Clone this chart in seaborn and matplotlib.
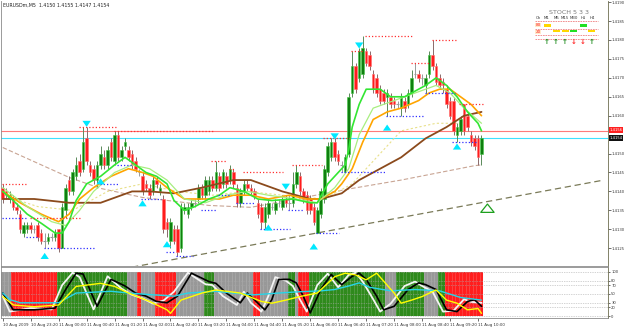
import numpy as np
import pandas as pd
import matplotlib
matplotlib.use("Agg")
import matplotlib.pyplot as plt
import seaborn as sns
from matplotlib.patches import Rectangle

sns.set_theme(style="white")
plt.rcParams['font.family'] = ['DejaVu Sans']

# ---------------- data ----------------
symbol_title = "EURUSDm,M5  1.4150 1.4155 1.4147 1.4154"

opens = [1.4141,1.4140,1.4138,1.4138,1.4136,1.4134,1.4129,1.4130,1.4131,1.4130,
         1.4131,1.4129,1.4127,1.4127,1.4128,1.4128,1.4130,1.4125,1.4135,1.4143,
         1.4140,1.4144,1.4148,1.4146,1.4154,1.4147,1.4146,1.4143,1.4147,1.4149,
         1.4147,1.4153,1.4148,1.4155,1.4149,1.4152,1.4151,1.4150,1.4148,1.4145,
         1.4144,1.4142,1.4141,1.4140,1.4143,1.4140,1.4138,1.4132,1.4127,1.4130,
         1.4130,1.4125,1.4135,1.4134,1.4136,1.4137,1.4138,1.4141,1.4139,1.4140,
         1.4143,1.4141,1.4144,1.4142,1.4144,1.4143,1.4145,1.4141,1.4137,1.4140,
         1.4142,1.4141,1.4140,1.4137,1.4136,1.4132,1.4134,1.4136,1.4135,1.4137,
         1.4136,1.4138,1.4137,1.4137,1.4142,1.4144,1.4140,1.4139,1.4138,1.4136,
         1.4129,1.4134,1.4138,1.4145,1.4149,1.4153,1.4150,1.4147,1.4145,1.4150,
         1.4166,1.4173,1.4170,1.4171,1.4177,1.4176,1.4171,1.4170,1.4167,1.4166,
         1.4165,1.4165,1.4164,1.4163,1.4162,1.4164,1.4163,1.4166,1.4171,1.4171,
         1.4170,1.4168,1.4171,1.4176,1.4173,1.4170,1.4169,1.4167,1.4164,1.4164,
         1.4155,1.4156,1.4163,1.4160,1.4155,1.4154,1.4154,1.4150]
highs = [1.4142,1.4141,1.4140,1.4139,1.4137,1.4135,1.4132,1.4132,1.4132,1.4131,
         1.4132,1.4130,1.4129,1.4129,1.4129,1.4130,1.4130,1.4137,1.4142,1.4144,
         1.4146,1.4149,1.4150,1.4157,1.4157,1.4148,1.4147,1.4148,1.4152,1.4151,
         1.4152,1.4154,1.4156,1.4156,1.4152,1.4154,1.4152,1.4151,1.4149,1.4146,
         1.4145,1.4143,1.4142,1.4144,1.4144,1.4142,1.4139,1.4133,1.4133,1.4131,
         1.4131,1.4137,1.4137,1.4137,1.4138,1.4138,1.4142,1.4142,1.4144,1.4144,
         1.4144,1.4148,1.4145,1.4146,1.4145,1.4147,1.4146,1.4142,1.4141,1.4143,
         1.4143,1.4142,1.4141,1.4138,1.4137,1.4137,1.4138,1.4137,1.4138,1.4138,
         1.4139,1.4139,1.4139,1.4145,1.4147,1.4145,1.4141,1.4140,1.4139,1.4137,
         1.4136,1.4141,1.4147,1.4153,1.4154,1.4154,1.4151,1.4148,1.4150,1.4166,
         1.4177,1.4174,1.4178,1.4181,1.4178,1.4177,1.4172,1.4171,1.4168,1.4167,
         1.4167,1.4166,1.4165,1.4164,1.4166,1.4165,1.4167,1.4172,1.4174,1.4172,
         1.4171,1.4171,1.4177,1.4180,1.4174,1.4171,1.4170,1.4168,1.4165,1.4165,
         1.4158,1.4160,1.4163,1.4161,1.4156,1.4155,1.4155,1.4155]
lows = [1.4137,1.4138,1.4137,1.4135,1.4134,1.4129,1.4128,1.4129,1.4129,1.4129,
        1.4127,1.4126,1.4125,1.4126,1.4127,1.4127,1.4124,1.4125,1.4133,1.4139,
        1.4139,1.4143,1.4144,1.4145,1.4147,1.4144,1.4142,1.4141,1.4146,1.4146,
        1.4146,1.4148,1.4147,1.4148,1.4148,1.4151,1.4148,1.4146,1.4145,1.4144,
        1.4139,1.4140,1.4138,1.4139,1.4141,1.4139,1.4129,1.4128,1.4125,1.4126,
        1.4123,1.4124,1.4134,1.4133,1.4135,1.4136,1.4137,1.4138,1.4138,1.4139,
        1.4140,1.4140,1.4140,1.4141,1.4141,1.4142,1.4141,1.4136,1.4136,1.4139,
        1.4140,1.4139,1.4138,1.4133,1.4130,1.4130,1.4133,1.4135,1.4134,1.4136,
        1.4135,1.4136,1.4135,1.4136,1.4141,1.4139,1.4137,1.4134,1.4134,1.4131,
        1.4129,1.4133,1.4137,1.4144,1.4148,1.4148,1.4147,1.4145,1.4145,1.4149,
        1.4165,1.4166,1.4169,1.4170,1.4173,1.4172,1.4166,1.4165,1.4163,1.4163,
        1.4160,1.4162,1.4162,1.4162,1.4160,1.4161,1.4162,1.4165,1.4170,1.4169,
        1.4168,1.4166,1.4170,1.4172,1.4168,1.4167,1.4166,1.4162,1.4159,1.4155,
        1.4153,1.4155,1.4155,1.4156,1.4152,1.4151,1.4147,1.4147]
closes = [1.4138,1.4139,1.4139,1.4136,1.4135,1.4130,1.4131,1.4131,1.4130,1.4130,
          1.4128,1.4127,1.4127,1.4128,1.4128,1.4129,1.4125,1.4136,1.4141,1.4140,
          1.4145,1.4147,1.4145,1.4153,1.4148,1.4145,1.4143,1.4147,1.4150,1.4147,
          1.4151,1.4149,1.4155,1.4149,1.4151,1.4153,1.4149,1.4147,1.4146,1.4145,
          1.4140,1.4141,1.4139,1.4143,1.4142,1.4141,1.4130,1.4130,1.4132,1.4127,
          1.4124,1.4136,1.4136,1.4136,1.4137,1.4137,1.4141,1.4139,1.4143,1.4143,
          1.4141,1.4145,1.4141,1.4145,1.4142,1.4146,1.4142,1.4137,1.4140,1.4142,
          1.4141,1.4140,1.4139,1.4134,1.4132,1.4136,1.4137,1.4136,1.4137,1.4137,
          1.4138,1.4137,1.4137,1.4142,1.4145,1.4140,1.4138,1.4135,1.4135,1.4132,
          1.4135,1.4140,1.4146,1.4152,1.4153,1.4149,1.4148,1.4147,1.4149,1.4165,
          1.4173,1.4167,1.4177,1.4178,1.4174,1.4173,1.4167,1.4166,1.4164,1.4164,
          1.4166,1.4163,1.4163,1.4163,1.4165,1.4162,1.4166,1.4170,1.4171,1.4170,
          1.4170,1.4170,1.4176,1.4173,1.4169,1.4168,1.4168,1.4163,1.4160,1.4156,
          1.4157,1.4159,1.4156,1.4157,1.4153,1.4152,1.4149,1.4154]

# moving averages (bar index, price)
lime_i = [0,3,7,11,15,17,19,21,24,28,32,35,38,41,44,47,49,52,55,59,62,65,69,73,77,83,88,90,93,96,98,99,100,102,104,108,111,115,117,121,124,127,130,133,136,137]
lime_p = [1.4140,1.41376,1.4134,1.41316,1.4129,1.4129,1.4132,1.41376,1.4142,1.4144,1.4147,1.4149,1.4147,1.4145,1.4144,1.4142,1.41376,1.4135,1.4136,1.4138,1.4139,1.4141,1.4140,1.4138,1.41376,1.4138,1.4137,1.4137,1.4142,1.4145,1.4147,1.4151,1.4157,1.4163,1.4167,1.4167,1.4165,1.4165,1.4166,1.4168,1.4170,1.4168,1.4165,1.4161,1.4158,1.4156]
lgreen_i = [0,7,14,18,22,26,32,37,42,47,52,58,64,70,76,84,90,95,99,102,106,112,118,124,128,132,137]
lgreen_p = [1.4141,1.4136,1.4132,1.4131,1.4135,1.4140,1.4145,1.4147,1.4146,1.4143,1.4138,1.4137,1.4139,1.4140,1.4139,1.4138,1.4137,1.4141,1.4146,1.4155,1.4162,1.4164,1.4166,1.4168,1.4166,1.4162,1.4158]
orange_i = [0,5,11,16,19,22,26,31,36,40,43,47,52,57,62,66,71,76,82,87,91,95,97,100,103,106,110,114,119,122,125,128,131,134,137]
orange_p = [1.4140,1.4137,1.4134,1.4132,1.4134,1.4138,1.4141,1.4144,1.4146,1.4145,1.4144,1.4141,1.4138,1.4138,1.4138,1.4139,1.4139,1.4138,1.4139,1.4138,1.4138,1.4140,1.4142,1.4146,1.4153,1.4159,1.4161,1.4162,1.4164,1.4166,1.4167,1.4167,1.4165,1.4163,1.4160]
brown_i = [0,9,19,28,37,42,49,57,66,71,80,88,91,97,102,108,114,121,127,132,137]
brown_p = [1.4138,1.4138,1.4137,1.4137,1.4140,1.4140,1.41395,1.4141,1.4143,1.4143,1.4140,1.4138,1.4138,1.41395,1.4143,1.4146,1.4149,1.4154,1.4157,1.4160,1.4161]
tan_i = [0,19,28,40,59,71,85,100,114,135,137]
tan_p = [1.41516,1.41437,1.41408,1.41384,1.41363,1.41358,1.41382,1.41408,1.4143,1.41468,1.4147]
khaki_i = [0,10,20,30,40,50,60,70,80,92,100,108,114,124,130,134]
khaki_p = [1.4139,1.4136,1.4135,1.4140,1.4142,1.4140,1.4139,1.4140,1.4139,1.4138,1.4142,1.4150,1.4156,1.4158,1.4158,1.4157]

# fractal levels
res_start = [0,8,22,32,60,65,69,83,92,100,104,117,123,131]
res_end   = [7,22,32,60,64,66,80,91,99,103,117,122,130,137]
res_price = [1.4142,1.4133,1.4157,1.4156,1.4148,1.4146,1.4145,1.4147,1.4154,1.4177,1.4181,1.4174,1.4180,1.4163]
sup_start = [0,7,12,28,33,40,47,50,57,62,67,74,82,90,97,110,121,129]
sup_end   = [7,10,26,33,37,45,49,54,61,65,72,82,86,96,109,120,129,135]
sup_price = [1.4133,1.4128,1.4125,1.4142,1.4147,1.4138,1.4124,1.4123,1.4135,1.4139,1.4137,1.4130,1.4135,1.4129,1.4145,1.4160,1.4166,1.4153]

# signal arrows
arrow_i = [12,24,28,40,47,76,81,89,95,102,110,130]
arrow_p = [1.41245,1.41563,1.41442,1.41384,1.41276,1.4132,1.41397,1.4127,1.4153,1.4177,1.41584,1.41534]
arrow_up = [True,False,True,True,True,True,False,True,False,False,True,True]
big_arrow_i = [138.7]
big_arrow_p = [1.41374]

trend_i = [37, 172]
trend_p = [1.4120, 1.4143]
ask_price = 1.4156
bid_price = 1.4154

yticks_main = [1.4125,1.4130,1.4135,1.4140,1.4145,1.4150,1.4160,1.4165,1.4170,1.4175,1.4180,1.4185,1.4190]

xtick_pos = list(range(0, 137, 8))
xtick_lab = ["10 Aug 2009","10 Aug 23:20","11 Aug 00:00","11 Aug 00:40","11 Aug 01:20",
             "11 Aug 02:00","11 Aug 02:40","11 Aug 03:20","11 Aug 04:00","11 Aug 04:40",
             "11 Aug 05:20","11 Aug 06:00","11 Aug 06:40","11 Aug 07:20","11 Aug 08:00",
             "11 Aug 08:40","11 Aug 09:20","11 Aug 10:00"]

# oscillator window
band_state = ["N","R","G","N","R","N","R","N","G","N","R","N","G","N","R","G","N","G","N","G","R"]
band_len   = [3,13,20,3,1,4,6,8,3,11,2,8,2,1,3,22,3,8,4,2,11]
black_i = [0,3,9,15,18,21,23,27,31,35,38,41,44,47,50,54,59,61,64,68,70,72,75,77,79,82,84,86,88,91,94,97,100,102,104,107,109,112,116,119,121,124,127,130,133,135,137]
black_v = [52,14,14,18,60,97,95,22,83,68,52,45,33,30,45,97,78,74,52,30,52,37,14,37,83,83,75,45,7,60,94,71,90,97,83,45,14,22,60,75,71,60,14,10,33,37,22]
white_i = [0,2,8,14,17,20,22,26,30,34,37,40,43,46,49,53,58,60,63,67,69,71,74,76,78,81,83,85,87,90,93,96,99,101,103,106,108,111,115,118,120,123,126,129,132,134,137]
white_v = [45,10,18,15,70,98,88,15,90,62,48,40,28,35,55,98,72,70,45,25,55,30,10,45,88,80,68,38,10,70,96,65,93,98,78,38,10,28,68,78,68,55,10,12,38,32,30]
cyan_i = [0,2,5,16,21,31,36,43,49,53,61,66,72,79,85,91,95,99,102,105,111,118,125,131,137]
cyan_v = [52,37,30,30,52,56,52,48,45,52,56,52,48,52,55,57,60,68,75,65,57,60,57,42,36]
yellow_i = [0,3,9,16,21,28,32,36,42,47,48,51,57,61,68,74,77,81,85,90,95,98,101,104,107,112,114,117,120,124,127,130,133,136,137]
yellow_v = [44,25,21,25,67,74,67,52,33,14,6,36,52,59,52,33,29,36,44,52,89,97,93,82,97,52,29,36,44,59,36,29,14,17,6]
osc_levels = [100, 80, 70, 50, 30, 20, 0]

# dashboard
dash_title = "STOCH 5 3 3"
dash_cols = ["Ch", "M1", "M5", "M15", "M30", "H1", "H4"]
dash_rows = ["80", "20"]
dash_up = [True, True, True, False, False, True]

# ---------------- figure ----------------
W, H = 625, 327
fig = plt.figure(figsize=(W / 100, H / 100), dpi=100)
fig.patch.set_facecolor("white")

def px_rect(x0, y0, x1, y1):
    return [x0 / W, 1 - y1 / H, (x1 - x0) / W, (y1 - y0) / H]

ax = fig.add_axes(px_rect(1, 1, 608, 266))
ax2 = fig.add_axes(px_rect(1, 267, 608, 318))
XL = (-0.5, 173.2)

def sline(a, xs, ys, **kw):
    sns.lineplot(x=xs, y=ys, ax=a, estimator=None, sort=False, legend=False, **kw)

df = pd.DataFrame({"i": np.arange(len(closes)), "o": opens, "h": highs, "l": lows, "c": closes})
bull = df.c > df.o
bear = df.c < df.o
doji = df.c == df.o

# bid / ask lines
ax.axhline(ask_price, color="#ff7a7a", lw=0.8, zorder=1)
ax.axhline(bid_price, color="#3fe0ff", lw=0.8, zorder=1)

# trend line
sline(ax, trend_i, trend_p, color="#7a7a58", lw=0.9, linestyle=(0, (5, 3)), zorder=1)

# long MAs
sline(ax, tan_i, tan_p, color="#c9a594", lw=0.8, linestyle=(0, (4, 2)), zorder=2)
sline(ax, khaki_i, khaki_p, color="#e8e08a", lw=0.8, linestyle=(0, (2, 2)), zorder=2)

# candles
ax.vlines(df.i[bull], df.l[bull], df.h[bull], color="#5a8a5a", lw=0.7, zorder=3)
ax.vlines(df.i[bear], df.l[bear], df.h[bear], color="#8a6a6a", lw=0.7, zorder=3)
ax.vlines(df.i[doji], df.l[doji], df.h[doji], color="#9a9a9a", lw=0.7, zorder=3)
ax.bar(df.i[bull], (df.c - df.o)[bull], bottom=df.o[bull], width=0.72,
       color="#0f7f0f", edgecolor="#45c845", linewidth=0.4, zorder=4)
ax.bar(df.i[bear], (df.o - df.c)[bear], bottom=df.c[bear], width=0.72,
       color="#ff1c1c", edgecolor="#ff7070", linewidth=0.4, zorder=4)
ax.hlines(df.c[doji], df.i[doji] - 0.36, df.i[doji] + 0.36, color="#9a9a9a", lw=0.8, zorder=4)

# moving averages
sline(ax, brown_i, brown_p, color="#8b4a1c", lw=1.3, zorder=5)
sline(ax, orange_i, orange_p, color="#ffa500", lw=1.2, zorder=5)
sline(ax, lgreen_i, lgreen_p, color="#a8ee80", lw=0.9, zorder=5)
sline(ax, lime_i, lime_p, color="#33e633", lw=1.2, zorder=6)

# fractal levels
ax.hlines(res_price, np.array(res_start) - 0.3, np.array(res_end) + 0.3,
          colors="#ff3030", linestyles=(0, (1, 1.6)), lw=0.9, zorder=6)
ax.hlines(sup_price, np.array(sup_start) - 0.3, np.array(sup_end) + 0.3,
          colors="#3030ff", linestyles=(0, (1, 1.6)), lw=0.9, zorder=6)

# arrows
for xi, pr, up in zip(arrow_i, arrow_p, arrow_up):
    ax.annotate("", xy=(xi, pr), xytext=(0, -7.5 if up else 7.5), textcoords="offset points",
                arrowprops=dict(arrowstyle="simple,head_length=0.55,head_width=0.75,tail_width=0.3",
                                color="#00e8ff", lw=0, mutation_scale=8), zorder=7)
for xi, pr in zip(big_arrow_i, big_arrow_p):
    ax.annotate("", xy=(xi, pr), xytext=(0, -10), textcoords="offset points",
                arrowprops=dict(arrowstyle="simple,head_length=0.5,head_width=0.8,tail_width=0.4",
                                fc="white", ec="#1ea01e", lw=0.9, mutation_scale=12), zorder=7)

ax.set_xlim(*XL)
ax.set_ylim(1.41203, 1.41903)
ax.set_xticks([])
ax.set_xlabel("")
ax.set_ylabel("")
ax.yaxis.tick_right()
ax.set_yticks(yticks_main)
ax.set_yticklabels([f"{v:.4f}" for v in yticks_main])
ax.tick_params(axis="y", labelsize=2.7, length=2, width=0.5, pad=0.8, colors="#333333", right=True, left=False)
for s in ax.spines.values():
    s.set_color("#8a8a8a")
    s.set_linewidth(0.6)
ax.spines["right"].set_color("#6e6e50")
ax.spines["top"].set_visible(False)

# ---------------- oscillator window ----------------
state_color = {"R": "#ff1e1e", "G": "#2f8a1c", "N": "#989898"}
bands = [st for st, n in zip(band_state, band_len) for _ in range(n)]
ax2.bar(df.i, 100, bottom=0, width=1.0, color=[state_color[b] for b in bands], linewidth=0, zorder=1)
ax2.vlines(df.i + 0.5, 0, 100, colors="#eeeeee", lw=0.4, linestyles=(0, (1, 1)), alpha=0.55, zorder=2)
for lv in osc_levels:
    ax2.axhline(lv, color="#a8a8a8", lw=0.5, linestyle=(0, (1, 1.5)), zorder=2)

sline(ax2, white_i, white_v, color="#f4f4f4", lw=1.3, zorder=3)
sline(ax2, black_i, black_v, color="#000000", lw=1.2, zorder=4)
sline(ax2, cyan_i, cyan_v, color="#25d5e8", lw=1.0, zorder=5)
sline(ax2, yellow_i, yellow_v, color="#ffff00", lw=1.0, zorder=5)

ax2.set_xlim(*XL)
ax2.set_ylim(-4.5, 111)
ax2.set_xlabel("")
ax2.set_ylabel("")
ax2.yaxis.tick_right()
ax2.set_yticks(osc_levels)
ax2.set_yticklabels([str(v) for v in osc_levels])
ax2.tick_params(axis="y", labelsize=2.7, length=1.5, width=0.5, pad=0.8, colors="#333333", right=True, left=False)
ax2.set_xticks(xtick_pos)
ax2.set_xticklabels(xtick_lab)
ax2.tick_params(axis="x", labelsize=2.9, length=2, width=0.5, pad=1.5, colors="#333333", bottom=True)
for lbl in ax2.get_xticklabels():
    lbl.set_horizontalalignment("left")
for s in ax2.spines.values():
    s.set_color("#8a8a8a")
    s.set_linewidth(0.6)
ax2.spines["right"].set_color("#6e6e50")

# ---------------- overlay (text, labels, dashboard) ----------------
ov = fig.add_axes([0, 0, 1, 1])
ov.set_xlim(0, W)
ov.set_ylim(H, 0)
ov.axis("off")
ov.patch.set_alpha(0)

ov.text(3, 5, symbol_title, fontsize=3.4, color="#222222", va="center", ha="left")
ov.text(609.5, 130, f"{ask_price:.4f}", fontsize=2.7, color="white", va="center", ha="left",
        bbox=dict(boxstyle="square,pad=0.2", fc="#ff2020", ec="none"))
ov.text(609.5, 138, f"{bid_price:.4f}", fontsize=2.7, color="white", va="center", ha="left",
        bbox=dict(boxstyle="square,pad=0.2", fc="#111111", ec="none"))

# dashboard
ov.text(569, 12, dash_title, fontsize=4.6, color="#7a7a7a", ha="center", va="center")
col_x = [538, 547, 556, 565, 574, 583, 592]
for cx, lab in zip(col_x, dash_cols):
    ov.text(cx, 18, lab, fontsize=2.8, color="#333333", ha="center", va="center")
for yy in [21, 28.5, 35, 38.5]:
    ov.plot([535, 598], [yy, yy], color="#f08080", lw=0.6, linestyle=(0, (2, 1)))
ov.text(538, 25, dash_rows[0], fontsize=3.0, color="#ff2020", ha="center", va="center",
        bbox=dict(boxstyle="square,pad=0.1", fc="#ffe8c8", ec="none"))
ov.text(538, 32, dash_rows[1], fontsize=3.0, color="#ff2020", ha="center", va="center",
        bbox=dict(boxstyle="square,pad=0.1", fc="#ffe8c8", ec="none"))
boxes = [(544, 25.5, "#ffd700"), (580, 25.5, "#22e022"), (553, 31, "#ffd700"), (562, 31, "#ffd700"),
         (570, 31, "#22e022"), (588, 31, "#ffd700")]
for bx, by, bc in boxes:
    ov.add_patch(Rectangle((bx, by - 1.3), 7, 2.6, fc=bc, ec="none"))
for cx, up in zip(col_x[1:], dash_up):
    ov.text(cx, 42, "\u2191" if up else "\u2193", fontsize=5, fontweight="bold",
            color="#1a8a1a" if up else "#ff2a2a", ha="center", va="center")

fig.savefig("out.png", dpi=100, facecolor="white")
